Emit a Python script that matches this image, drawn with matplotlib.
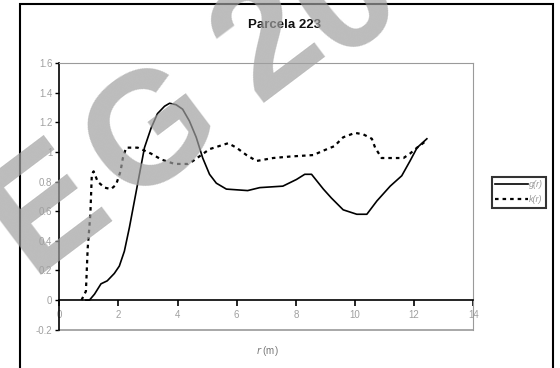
import matplotlib
matplotlib.use("Agg")
import matplotlib.pyplot as plt
from matplotlib.patches import Rectangle

# ---- data ----
g_r = [0.9, 1.02, 1.19, 1.41, 1.62, 1.86, 2.03, 2.2, 2.37, 2.54, 2.71, 2.88, 3.1, 3.32,
       3.56, 3.73, 3.95, 4.17, 4.4, 4.63, 4.85, 5.08, 5.31, 5.65, 6.37, 6.78, 7.56, 8.02,
       8.3, 8.53, 8.93, 9.2, 9.6, 10.06, 10.4, 10.74, 11.19, 11.58, 11.86, 12.1, 12.43]
g_v = [0.0, 0.0, 0.04, 0.11, 0.13, 0.18, 0.23, 0.33, 0.49, 0.67, 0.85, 1.03, 1.16, 1.26,
       1.31, 1.33, 1.32, 1.29, 1.21, 1.10, 0.96, 0.85, 0.79, 0.75, 0.74, 0.76, 0.77, 0.815,
       0.85, 0.85, 0.75, 0.69, 0.61, 0.58, 0.58, 0.67, 0.77, 0.84, 0.94, 1.03, 1.09]

k_r = [0.75, 0.9, 0.96, 1.05, 1.1, 1.16, 1.3, 1.53, 1.75, 1.92, 2.07, 2.15, 2.26, 2.65,
       2.88, 3.1, 3.45, 3.9, 4.35, 4.52, 5.08, 5.71, 5.99, 6.33, 6.67, 7.23, 7.8, 8.59,
       8.93, 9.3, 9.6, 10.0, 10.28, 10.57, 10.68, 10.9, 11.64, 11.86, 12.1, 12.43]
k_v = [0.0, 0.06, 0.35, 0.58, 0.85, 0.87, 0.80, 0.76, 0.75, 0.78, 0.87, 0.96, 1.03, 1.03,
       1.01, 0.99, 0.95, 0.92, 0.92, 0.94, 1.02, 1.06, 1.03, 0.98, 0.94, 0.96, 0.97, 0.98,
       1.01, 1.04, 1.10, 1.13, 1.12, 1.09, 1.03, 0.96, 0.96, 0.99, 1.03, 1.08]

x_ticks = [0, 2, 4, 6, 8, 10, 12, 14]
x_labels = ["0", "2", "4", "6", "8", "10", "12", "14"]
y_ticks = [-0.2, 0, 0.2, 0.4, 0.6, 0.8, 1.0, 1.2, 1.4, 1.6]
y_labels = ["-0.2", "0", "0.2", "0.4", "0.6", "0.8", "1", "1.2", "1.4", "1.6"]

title = "Parcela 223"
series_names = ["g(r)", "k(r)"]
watermark_chars = ["E", "G", "2", "0"]

W, H = 560, 368
fig = plt.figure(figsize=(W / 100, H / 100), dpi=100)
plt.rcParams['font.family'] = ['Liberation Sans', 'DejaVu Sans']

def fx(px):
    return px / W

def fy(py):
    return 1 - py / H

ax = fig.add_axes([fx(59.3), fy(329.7), fx(473.3) - fx(59.3), fy(63.3) - fy(329.7)])
ax.set_xlim(0, 14)
ax.set_ylim(-0.2, 1.6)

ax.plot(g_r, g_v, color="black", lw=1.2, label=series_names[0], zorder=3)
ax.plot(k_r, k_v, color="black", lw=1.6, linestyle=(0, (1.6, 1.8)), label=series_names[1], zorder=3)

gray = "#9a9a9a"
ax.spines['left'].set_color("black")
ax.spines['left'].set_linewidth(1.2)
ax.spines['top'].set_color(gray)
ax.spines['right'].set_color(gray)
ax.spines['bottom'].set_position(('data', 0))
ax.spines['bottom'].set_color("black")
ax.spines['bottom'].set_linewidth(1.2)
ax.axhline(-0.2, color=gray, lw=1.2, clip_on=False)

ax.set_xticks(x_ticks)
ax.set_xticklabels(x_labels)
ax.set_yticks(y_ticks)
ax.set_yticklabels(y_labels)
ax.tick_params(axis='x', direction='out', length=4, width=1.2, color="black",
               labelsize=7, labelcolor="#a0a0a0", pad=3)
ax.tick_params(axis='y', direction='out', length=3, width=1.0, color="black",
               labelsize=7, labelcolor="#a0a0a0", pad=2)

fig.text(fx(285), fy(25), title, ha="center", va="center", fontsize=9.5,
         fontweight="bold", color="#111111")
fig.text(fx(267), fy(351), "$r$ (m)", ha="center", va="center", fontsize=7, color="#777777")

leg = fig.legend(loc="upper left", bbox_to_anchor=(fx(492), fy(177)), fontsize=6.5,
                 frameon=True, fancybox=False, edgecolor="black", borderpad=0.35,
                 handlelength=3.6, handletextpad=0.1, labelspacing=0.7, borderaxespad=0)
leg.get_frame().set_linewidth(1.5)
for t in leg.get_texts():
    t.set_color("#999999")
    t.set_fontstyle("italic")

# outer chart frame
fig.patches.append(Rectangle((fx(20), -0.05), fx(553) - fx(20), fy(4) + 0.05,
                             transform=fig.transFigure, fill=False, edgecolor="black",
                             lw=1.5, zorder=0))

# watermark letters (glyph origin on the baseline, in pixels)
wm_pos = [(30, 275), (128, 204), (258, 103), (336, 60)]
for ch, (px, py) in zip(watermark_chars, wm_pos):
    fig.text(fx(px), fy(py), ch, rotation=37, rotation_mode="anchor", ha="left",
             va="baseline", fontsize=115, color="#a0a0a0", alpha=0.7, zorder=10,
             fontweight="bold")

fig.savefig("out.png", dpi=100)
